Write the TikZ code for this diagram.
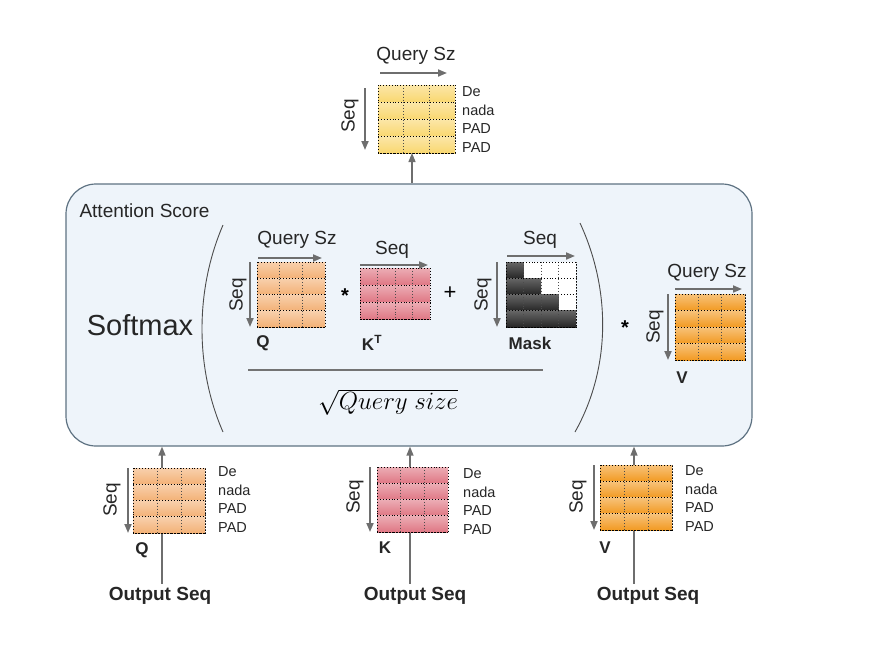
\documentclass[tikz,border=0pt]{standalone}
\usepackage{fontspec}
\setmainfont{Liberation Sans}
\usetikzlibrary{arrows.meta,calc}
\definecolor{boxfill}{HTML}{EEF4FA}
\definecolor{boxline}{HTML}{5E7282}
\definecolor{outy}{HTML}{F9D770}
\definecolor{qpeach}{HTML}{F3B176}
\definecolor{kpink}{HTML}{DF7784}
\definecolor{vorange}{HTML}{F29A22}
\definecolor{arrowgray}{HTML}{6E6E6E}

% dotted grid over a matrix node: node, cols, rows
\newcommand\matgrid[3]{%
  \foreach \i in {1,...,#3}
    \draw[cellline] ($(#1.north west)!{\i/#3}!(#1.south west)$) -- ($(#1.north east)!{\i/#3}!(#1.south east)$);
  \foreach \j in {1,...,#2}
    \draw[cellline, black!70] ($(#1.north west)!{\j/#2}!(#1.north east)$) -- ($(#1.south west)!{\j/#2}!(#1.south east)$);
  \draw[cellline] (#1.north west) rectangle (#1.south east);
}
% shaded rows: node, cols, rows, colour
\newcommand\matfill[4]{%
  \foreach \i in {1,...,#3}
    \shade[top color=#4!60, bottom color=#4]
      ($(#1.north west)!{(\i-1)/#3}!(#1.south west)$) rectangle ($(#1.north east)!{\i/#3}!(#1.south east)$);
  \matgrid{#1}{#2}{#3}
}

\begin{document}
\begin{tikzpicture}[x=1pt, y=-1pt,
  mat/.style 2 args={inner sep=0pt, outer sep=0pt, minimum width=#1pt, minimum height=#2pt},
  cellline/.style={draw=black, dotted, line width=0.9pt},
  dim/.style={font=\fontsize{19}{22}\selectfont, text=black!85},
  tag/.style={font=\bfseries\fontsize{17}{20}\selectfont, text=black!85},
  rows/.style={font=\fontsize{14.5}{18.6}\selectfont, align=left, anchor=west, inner sep=0pt, text=black!85},
  outlbl/.style={font=\bfseries\fontsize{19}{22}\selectfont, text=black!85},
  dimarr/.style={draw=arrowgray, line width=1.8pt, -{Triangle[length=9pt,width=7pt]}},
  connarr/.style={draw=arrowgray, line width=1.3pt, -{Triangle[length=9pt,width=7pt]}}]
\useasboundingbox (0,0) rectangle (875,649);

% score box
\node[draw=boxline, fill=boxfill, line width=1.2pt, rounded corners=30pt,
      minimum width=686pt, minimum height=262pt] (att) at (409,315) {};
\node[anchor=west, font=\fontsize{19}{22}\selectfont, text=black!85] (attl) at (76,211) {Attention Score};
\node[font=\fontsize{29}{34}\selectfont, text=black!85] (soft) at (140,325) {Softmax};
\draw[black!70, line width=0.9pt] (223,225) .. controls (195,290) and (195,368) .. (223,432);
\draw[black!70, line width=0.9pt] (580,223) .. controls (611,290) and (611,368) .. (575,432);
\draw[black!55, line width=1.1pt] (248,370) -- (543,370);
\node[font=\fontsize{24}{28}\selectfont] (sq) at (388,402) {$\sqrt{Query\ size}$};

% Q K^T + Mask
\node[mat={68}{65}] (qi) at (291,294.5) {};
\matfill{qi}{3}{4}{qpeach}
\node[dim] (qisz) at (297,240) {Query Sz};
\draw[dimarr] ([xshift=1pt,yshift=4pt]qi.north west) -- ([xshift=-3pt,yshift=4pt]qi.north east);
\draw[dimarr] ([xshift=-7pt]qi.north west) -- ([xshift=-7pt]qi.south west);
\node[dim, rotate=90] (qiseq) at (238,295) {Seq};
\node[tag] (qil) at (263,343) {Q};
\node[font=\bfseries\fontsize{20}{24}\selectfont] (mul1) at (345,296) {*};

\node[mat={70}{51}] (kt) at (395,293.5) {};
\matfill{kt}{4}{3}{kpink}
\node[dim] (ktseq) at (392,250) {Seq};
\draw[dimarr] ([yshift=3pt]kt.north west) -- ([xshift=-2pt,yshift=3pt]kt.north east);
\node[tag] (ktl) at (372,343) {K\textsuperscript{T}};
\node[font=\fontsize{22}{26}\selectfont] (plus) at (450,293) {+};

\node[mat={70}{65}, fill=white] (mk) at (541,294.5) {};
\foreach \r in {1,...,4}
  \foreach \c in {1,...,\r}
    \shade[top color=black!60, bottom color=black!85]
      ($(mk.north west)+({(\c-1)*17.5},{(\r-1)*16.25})$) rectangle +(17.5,16.25);
\matgrid{mk}{4}{4}
\node[dim] (mkseq) at (540,240) {Seq};
\draw[dimarr] ([xshift=1pt,yshift=6pt]mk.north west) -- ([xshift=-1pt,yshift=6pt]mk.north east);
\draw[dimarr] ([xshift=-9pt]mk.north west) -- ([xshift=-9pt]mk.south west);
\node[dim, rotate=90] (mkseql) at (483,295) {Seq};
\node[tag] (mkl) at (530,343) {Mask};

% times V
\node[font=\bfseries\fontsize{20}{24}\selectfont] (mul2) at (625,328) {*};
\node[mat={70}{66}] (vi) at (710,327) {};
\matfill{vi}{3}{4}{vorange}
\node[dim] (visz) at (707,273) {Query Sz};
\draw[dimarr] ([yshift=5pt]vi.north west) -- ([xshift=-3pt,yshift=5pt]vi.north east);
\draw[dimarr] ([xshift=-7pt]vi.north west) -- ([xshift=-7pt]vi.south west);
\node[dim, rotate=90] (viseq) at (655,327) {Seq};
\node[tag] (vil) at (682,378) {V};

% output
\node[mat={77}{68}] (mout) at (416.5,119) {};
\matfill{mout}{3}{4}{outy}
\node[dim] (outsz) at (416,56) {Query Sz};
\draw[dimarr] ([xshift=2pt,yshift=12pt]mout.north west) -- ([xshift=-8pt,yshift=12pt]mout.north east);
\draw[dimarr] ([xshift=-13pt,yshift=-3pt]mout.north west) -- ([xshift=-13pt,yshift=3pt]mout.south west);
\node[dim, rotate=90] (outseq) at (350,116) {Seq};
\node[rows] (outrows) at (462,119.5) {De\\nada\\PAD\\PAD};
\draw[connarr] ([xshift=-4.5pt]mout.south |- att.north) -- ([xshift=-4.5pt]mout.south);

% inputs
\node[outlbl] (oq) at (160,596) {Output Seq};
\node[outlbl] (ok) at (415,596) {Output Seq};
\node[outlbl] (ov) at (648,596) {Output Seq};
\draw[connarr] ([xshift=2pt]oq.north) -- ([xshift=2pt]oq.north |- att.south);
\draw[connarr] ([xshift=-5pt]ok.north) -- ([xshift=-5pt]ok.north |- att.south);
\draw[connarr] ([xshift=-14pt]ov.north) -- ([xshift=-14pt]ov.north |- att.south);

\node[mat={72}{65}] (mq) at (169,500.5) {};
\matfill{mq}{3}{4}{qpeach}
\draw[dimarr] ([xshift=-5pt]mq.north west) -- ([xshift=-5pt]mq.south west);
\node[dim, rotate=90] (mqseq) at (112,500) {Seq};
\node[rows] (mqrows) at (218,499.5) {De\\nada\\PAD\\PAD};
\node[tag] (mql) at (142,550) {Q};

\node[mat={71}{65}] (mkb) at (412.5,499.5) {};
\matfill{mkb}{3}{4}{kpink}
\draw[dimarr] ([xshift=-7pt]mkb.north west) -- ([xshift=-7pt]mkb.south west);
\node[dim, rotate=90] (mkbseq) at (355,497) {Seq};
\node[rows] (mkbrows) at (463,501.5) {De\\nada\\PAD\\PAD};
\node[tag] (mkbl) at (385,548) {K};

\node[mat={72}{65}] (mv) at (636,497.5) {};
\matfill{mv}{3}{4}{vorange}
\draw[dimarr] ([xshift=-6pt]mv.north west) -- ([xshift=-6pt]mv.south west);
\node[dim, rotate=90] (mvseq) at (578,497) {Seq};
\node[rows] (mvrows) at (685,498.5) {De\\nada\\PAD\\PAD};
\node[tag] (mvl) at (605,548) {V};
\end{tikzpicture}
\end{document}
